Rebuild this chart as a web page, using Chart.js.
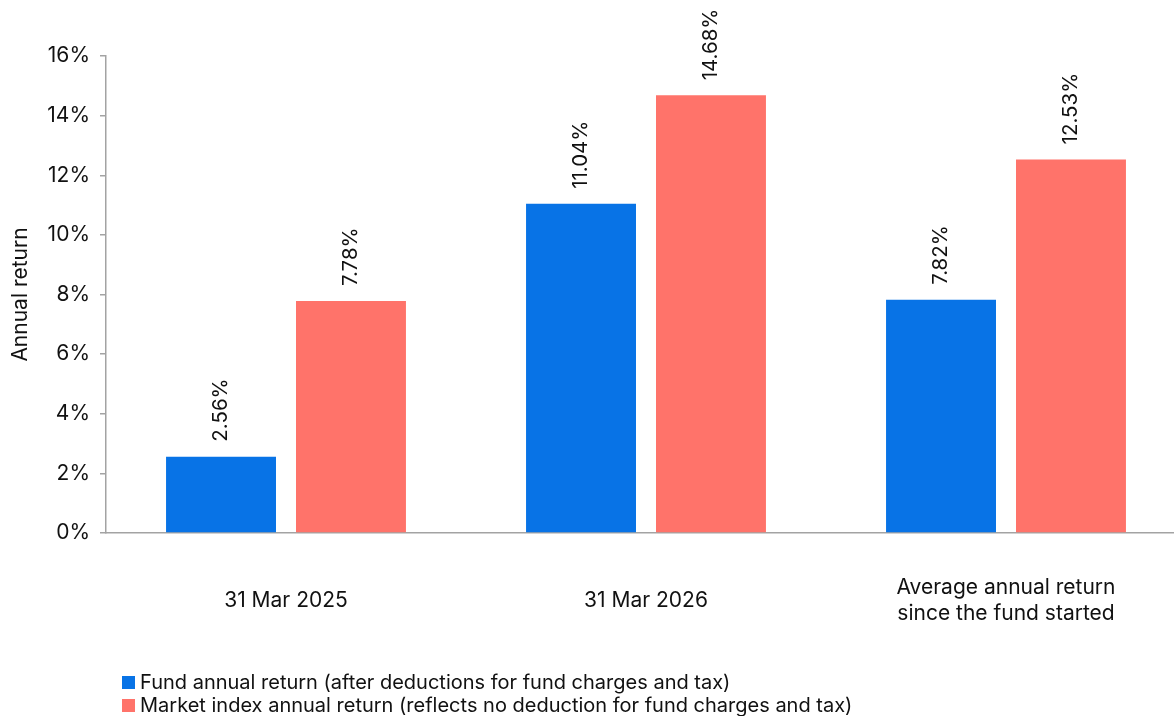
<!DOCTYPE html>
<html>
<head>
<meta charset="utf-8">
<script src="https://cdn.jsdelivr.net/npm/chart.js@4/dist/chart.umd.min.js"></script>
<style>
  html, body { margin: 0; padding: 0; background: #fff; overflow: hidden; }
  #wrap { position: relative; width: 1186px; height: 716px; }
</style>
</head>
<body>
<div id="wrap"><canvas id="returnsChart"></canvas></div>
<script>
let categories = ['31 Mar 2025', '31 Mar 2026', ['Average annual return', 'since the fund started']];
let fundReturns = [2.56, 11.04, 7.82];
let indexReturns = [7.78, 14.68, 12.53];
let seriesNames = [
    'Fund annual return (after deductions for fund charges and tax)',
    'Market index annual return (reflects no deduction for fund charges and tax)'
];
let yTicks = [0, 2, 4, 6, 8, 10, 12, 14, 16];

const FONT = 'Inter, "Liberation Sans", Arial, sans-serif';
const BLUE = '#0873e6';
const RED = '#ff736a';
const AXIS = '#a3a3a3';

// rotated value labels above each bar
const barLabels = {
    id: 'barLabels',
    afterDatasetsDraw(chart) {
        let ctx = chart.ctx;
        ctx.save();
        ctx.fillStyle = '#111';
        ctx.font = '20.5px ' + FONT;
        ctx.textAlign = 'left';
        ctx.textBaseline = 'middle';
        chart.data.datasets.forEach((ds, i) => {
            chart.getDatasetMeta(i).data.forEach((bar, j) => {
                ctx.save();
                ctx.translate(bar.x, bar.y - 15);
                ctx.rotate(-Math.PI / 2);
                ctx.fillText(ds.data[j].toFixed(2) + '%', 0, 0);
                ctx.restore();
            });
        });
        ctx.restore();
    }
};

// legend stacked at bottom left
const bottomLegend = {
    id: 'bottomLegend',
    afterDraw(chart) {
        let ctx = chart.ctx;
        ctx.save();
        ctx.font = '20px ' + FONT;
        ctx.textBaseline = 'middle';
        chart.data.datasets.forEach((ds, i) => {
            let y = 683 + i * 23;
            ctx.fillStyle = ds.backgroundColor;
            ctx.fillRect(122, y - 7, 13, 13);
            ctx.fillStyle = '#111';
            ctx.fillText(ds.label, 140, y);
        });
        ctx.restore();
    }
};

new Chart(document.querySelector('#returnsChart'), {
    type: 'bar',
    data: {
        labels: categories,
        datasets: [{
            label: seriesNames[0],
            data: fundReturns,
            backgroundColor: BLUE
        }, {
            label: seriesNames[1],
            data: indexReturns,
            backgroundColor: RED
        }]
    },
    options: {
        animation: false,
        responsive: true,
        maintainAspectRatio: false,
        categoryPercentage: 0.722,
        barPercentage: 0.846,
        layout: { padding: { top: 56, right: 0, bottom: 0, left: 0 } },
        plugins: {
            legend: { display: false },
            tooltip: { enabled: false }
        },
        scales: {
            x: {
                grid: { display: false },
                border: { display: true, color: AXIS, width: 1.5 },
                ticks: {
                    color: '#111',
                    font: { family: FONT, size: 21 },
                    maxRotation: 0,
                    autoSkip: false,
                    padding: 47,
                    crossAlign: 'center'
                },
                afterFit: scale => { scale.height = 183; }
            },
            y: {
                min: 0,
                max: 16,
                afterBuildTicks: scale => { scale.ticks = yTicks.map(v => ({ value: v })); },
                grid: { drawOnChartArea: false, drawTicks: true, tickLength: 6, color: AXIS, lineWidth: 1.5 },
                border: { display: true, color: AXIS, width: 1.5 },
                ticks: {
                    color: '#111',
                    font: { family: FONT, size: 21 },
                    padding: 10,
                    callback: v => v + '%'
                },
                title: {
                    display: true,
                    text: 'Annual return',
                    color: '#111',
                    font: { family: FONT, size: 21 },
                    padding: { top: 8, bottom: 0 }
                },
                afterFit: scale => { scale.width = 106; }
            }
        }
    },
    plugins: [barLabels, bottomLegend]
});
</script>
</body>
</html>
